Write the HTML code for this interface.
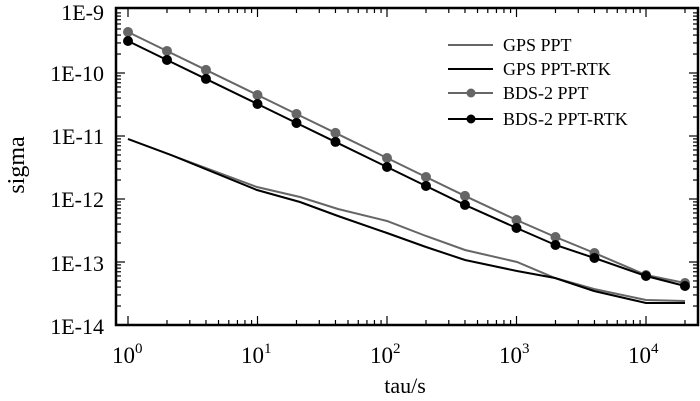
<!DOCTYPE html>
<html><head><style>body{margin:0;background:#fff}svg{display:block}</style></head>
<body>
<svg id="s" width="700" height="401" xmlns="http://www.w3.org/2000/svg" font-family="Liberation Serif, serif">
<rect x="116" y="8" width="582" height="317" fill="none" stroke="#000" stroke-width="2.5"/>
<g id="ticks" stroke="#000" stroke-width="1.2"></g>
<g font-size="22" text-anchor="end">
<text x="104" y="20">1E-9</text>
<text x="104" y="81">1E-10</text>
<text x="104" y="144">1E-11</text>
<text x="104" y="207">1E-12</text>
<text x="104" y="271">1E-13</text>
<text x="104" y="334">1E-14</text>
</g>
<g font-size="23">
<text x="112" y="363">10<tspan dy="-10" font-size="15">0</tspan></text>
<text x="241" y="363">10<tspan dy="-10" font-size="15">1</tspan></text>
<text x="370" y="363">10<tspan dy="-10" font-size="15">2</tspan></text>
<text x="499" y="363">10<tspan dy="-10" font-size="15">3</tspan></text>
<text x="628" y="363">10<tspan dy="-10" font-size="15">4</tspan></text>
</g>
<text x="405" y="393" font-size="22" text-anchor="middle">tau/s</text>
<text transform="translate(24,165) rotate(-90)" font-size="24" text-anchor="middle">sigma</text>
<polyline fill="none" stroke="#666" stroke-width="2" points="128,139 171,155 257,187 300,197 338,209 387,221 426,236 465,250 517,262 555,278 594,289 646,300 685,301"/>
<polyline fill="none" stroke="#000" stroke-width="2" points="128,139 171,155 257,190 300,202 338,216 387,233 426,247 465,260 517,271 555,278 594,291 646,303 685,303"/>
<g id="bds"></g>
<g font-size="18">
<line x1="448" y1="45" x2="493" y2="45" stroke="#666" stroke-width="2"/>
<text x="503" y="51">GPS PPT</text>
<line x1="448" y1="69" x2="493" y2="69" stroke="#000" stroke-width="2"/>
<text x="503" y="75">GPS PPT-RTK</text>
<line x1="448" y1="93" x2="493" y2="93" stroke="#666" stroke-width="2"/>
<circle cx="471" cy="93" r="4.5" fill="#666"/>
<text x="503" y="99">BDS-2 PPT</text>
<line x1="448" y1="119" x2="493" y2="119" stroke="#000" stroke-width="2"/>
<circle cx="471" cy="119" r="4.5" fill="#000"/>
<text x="503" y="125">BDS-2 PPT-RTK</text>
</g>
</svg>
<script>
function X(t){return 128+Math.log10(t)*129.5}
var tk=document.getElementById("ticks"),h="";
for(var d=0;d<5;d++)for(var m=1;m<10;m++){var t=m*Math.pow(10,d);var x=X(t);if(x>697)break;var L=m==1?9:5;
h+='<line x1="'+x+'" y1="325" x2="'+x+'" y2="'+(325-L)+'"/><line x1="'+x+'" y1="8" x2="'+x+'" y2="'+(8+L)+'"/>';}
for(var d=0;d<5;d++)for(var m=1;m<10;m++){var y=325-(d*63+Math.log10(m)*63);if(y<9)break;var L=m==1?9:5;
h+='<line x1="116" y1="'+y+'" x2="'+(116+L)+'" y2="'+y+'"/><line x1="698" y1="'+y+'" x2="'+(698-L)+'" y2="'+y+'"/>';}
tk.innerHTML=h;
var ts=[1,2,4,10,20,40,100,200,400,1000,2000,4000,10000,20000];
function s(c,ys){var p=ts.map(function(t,i){return X(t)+","+ys[i]}).join(" ");
var g='<polyline fill="none" stroke="'+c+'" stroke-width="2" points="'+p+'"/>';
ts.forEach(function(t,i){g+='<circle cx="'+X(t)+'" cy="'+ys[i]+'" r="5" fill="'+c+'"/>'});return g;}
function ys(a,end){return ts.map(function(t,i){return i<ts.length-5?a+Math.log10(t)*63:end[i-(ts.length-5)]})}
document.getElementById("bds").innerHTML=s("#666",ys(32,[220,237,253,275,283]))+s("#000",ys(41,[228,245,258,276,286]));
</script>
</body></html>
